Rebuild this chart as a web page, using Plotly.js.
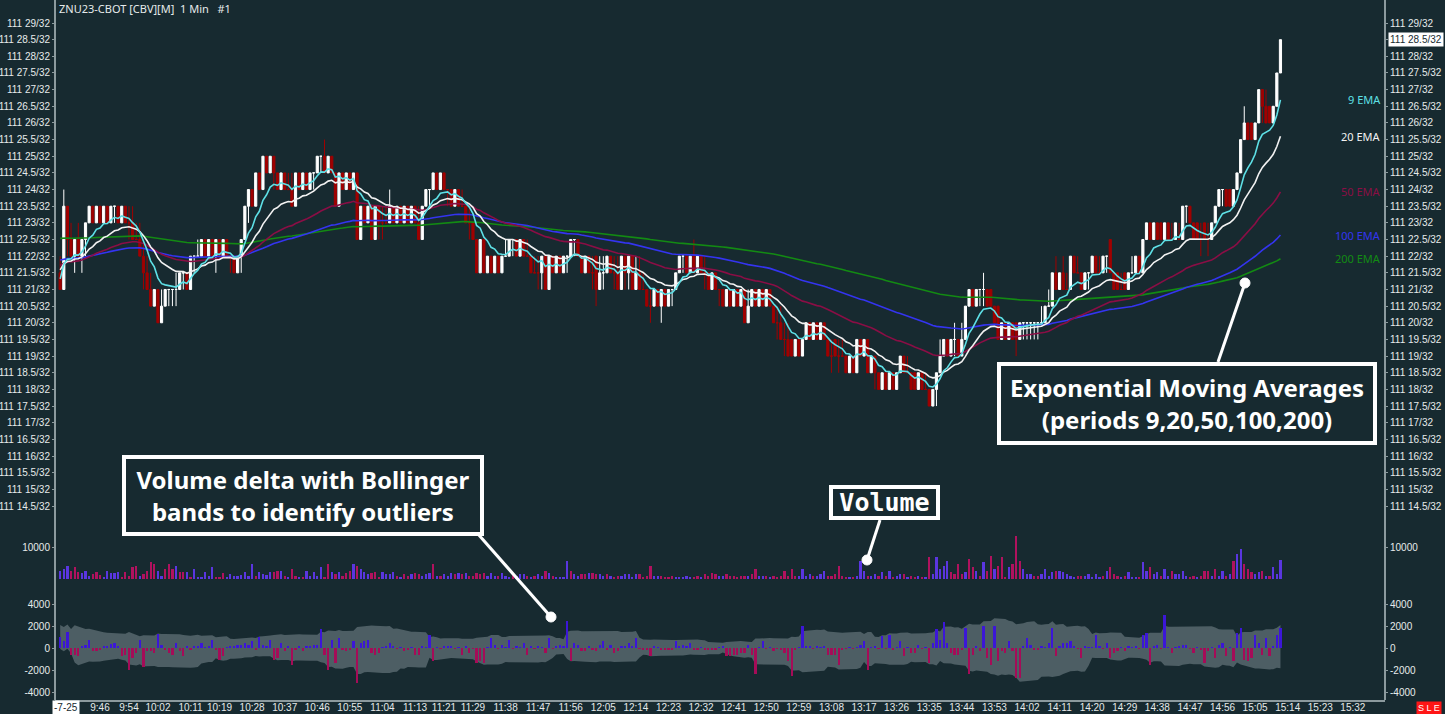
<!DOCTYPE html>
<html>
<head>
<meta charset="utf-8">
<script src="https://cdn.plot.ly/plotly-3.0.1.min.js"></script>
<style>
html,body{margin:0;padding:0;background:#172a30;}
#chart{width:1445px;height:714px;}
</style>
</head>
<body>
<div id="chart"></div>
<script>
// ---------- DATA ----------
// first bar at 9:35, one bar per minute
const firstBarMinute = 575;
// prices in 64ths of a point above 111 (i.e. 2 x the "/32" value)
const open64 = [
43,42,47,45,44,45,44,45,46,47, 46,47,46,47,46,47,47,46,47,46, 46,45,45,44,43,42,41,42,40,41,
42,42,42,42,43,43,42,44,44,44, 45,44,45,44,45,44,45,44,44,43, 44,45,47,48,47,49,48,50,49,50,
49,48,49,48,48,47,49,48,49,48, 49,49,50,50,49,50,49,47,49,48, 49,48,49,45,47,46,47,45,47,46,
46,46,47,46,47,46,47,46,47,46, 45,47,48,48,49,48,49,48,48,47, 48,47,47,46,46,45,43,45,43,44,
43,44,43,44,44,45,45,44,45,44, 44,43,43,43,44,42,44,43,44,43, 44,44,45,45,44,43,44,43,44,42,
43,43,44,43,43,42,44,43,44,42, 43,42,42,41,41,42,41,42,41,42, 42,43,44,44,43,44,43,44,43,43,
42,43,42,42,41,42,41,42,41,42, 40,41,42,41,42,41,42,41,40,40, 39,39,39,38,39,38,39,40,39,40,
39,40,39,38,39,38,38,38,37,38, 37,39,38,39,37,38,37,36,37,36, 37,36,37,38,37,37,37,36,37,36,
36,35,36,37,38,39,38,39,39,38, 39,41,42,41,42,42,42,42,41,41, 39,40,39,40,40,39,40,40,40,40,
40,40,40,41,41,43,42,43,42,42, 44,43,43,42,43,43,44,43,43,44, 45,43,43,42,43,42,43,43,44,43,
45,46,45,46,46,45,46,45,45,45, 45,47,47,46,46,45,46,45,45,46, 47,48,48,48,47,48,49,51,52,52,
51,52,54,53,53,52,53,55];
const high64 = [
44,48,47,46,45,46,45,46,47,47, 47,47,47,47,47,47,47,47,47,47, 47,46,46,45,44,43,42,42,42,42,
42,42,43,43,43,43,44,44,45,45, 45,45,45,45,45,45,45,44,44,44, 45,47,48,48,49,49,50,50,50,50,
49,49,49,49,49,49,49,49,49,49, 49,50,50,51,50,50,49,49,49,49, 49,49,49,47,47,47,47,47,47,47,
47,48,47,47,47,47,47,47,47,47, 47,48,48,49,49,49,49,48,48,48, 48,48,47,47,46,45,45,45,44,44,
44,44,44,45,45,45,45,45,45,45, 44,44,44,44,44,44,44,44,44,44, 44,45,45,45,44,44,44,44,44,44,
44,44,44,44,44,44,44,44,44,44, 44,43,42,42,42,42,42,42,42,42, 43,44,44,44,44,45,44,44,44,43,
43,43,42,42,42,42,42,42,42,42, 42,42,42,42,42,42,42,41,41,41, 40,40,39,39,39,39,40,40,40,40,
40,40,39,39,39,39,39,38,38,38, 39,39,39,39,38,38,37,37,37,37, 37,37,38,38,38,37,37,37,37,37,
36,36,37,39,39,39,39,40,39,40, 41,42,42,42,42,43,42,42,41,41, 40,40,40,40,40,40,40,40,40,40,
40,41,41,42,43,44,43,44,43,44, 44,44,43,43,43,44,44,44,44,44, 45,43,43,43,43,43,44,44,44,45,
46,46,46,46,46,46,46,46,46,46, 47,47,47,46,46,46,46,46,46,47, 48,48,48,48,48,49,51,53,52,52,
52,54,54,54,53,53,55,57];
const low64 = [
42,42,44,44,43,44,43,44,46,46, 46,46,46,46,46,46,46,46,46,45, 45,45,44,42,42,41,41,40,40,41,
41,41,41,42,42,42,42,43,44,44, 44,44,44,43,44,44,44,43,43,43, 43,45,46,47,47,48,48,49,49,48,
48,48,48,48,47,47,48,48,48,48, 48,49,49,49,49,49,47,47,48,48, 48,48,45,45,46,46,45,45,45,45,
46,46,46,46,46,46,46,46,46,45, 45,47,47,48,48,48,48,47,47,47, 47,47,46,45,45,43,43,43,43,43,
43,43,43,44,44,44,44,44,44,44, 43,43,42,42,42,42,43,43,43,43, 43,44,44,44,43,43,43,42,41,42,
42,43,43,42,42,42,42,42,42,42, 42,42,41,40,41,41,40,41,41,41, 42,43,43,43,43,43,43,43,42,42,
42,42,41,41,41,41,41,41,41,40, 40,41,41,41,41,41,41,40,39,39, 38,38,38,38,38,38,39,39,39,39,
39,39,38,37,38,37,38,37,37,37, 37,38,38,37,37,36,36,36,36,36, 36,36,37,37,37,36,36,36,36,36,
35,35,35,37,38,38,38,38,38,38, 39,41,41,41,41,41,41,41,40,39, 39,39,39,39,38,39,39,39,39,39,
39,40,40,41,41,42,42,42,42,42, 43,43,42,42,42,43,43,43,43,43, 43,42,42,42,42,42,43,43,43,43,
45,45,45,45,45,45,45,45,45,45, 45,46,46,45,45,44,45,44,45,46, 47,47,47,47,47,48,49,51,51,51,
51,52,52,52,52,52,53,55];
const close64 = [
42,47,45,44,45,44,45,46,47,46, 47,46,47,46,47,47,46,47,46,46, 45,45,44,43,42,41,42,40,41,42,
42,42,42,43,43,42,44,44,44,45, 44,45,44,45,44,45,44,44,43,44, 45,47,48,47,49,48,50,49,50,49,
48,49,48,48,47,49,48,49,48,49, 49,50,50,49,50,49,47,49,48,49, 48,49,45,47,46,47,45,47,46,46,
46,47,46,47,46,47,46,47,46,45, 47,48,48,49,48,49,48,48,47,48, 47,47,46,46,45,43,45,43,44,43,
44,43,44,44,45,45,44,45,44,44, 43,43,43,44,42,44,43,44,43,44, 44,45,45,44,43,44,43,43,42,43,
43,44,43,43,42,44,43,44,42,43, 42,42,41,41,42,41,42,41,42,42, 43,44,44,43,44,43,44,43,43,42,
43,42,42,41,42,41,42,41,42,40, 41,42,41,42,41,42,41,40,40,39, 39,38,38,39,38,39,40,39,40,39,
40,39,38,38,38,38,38,37,38,37, 39,38,39,37,38,37,36,37,36,37, 36,37,38,37,37,36,36,37,36,36,
35,36,37,38,39,38,39,39,38,39, 41,42,41,42,42,42,41,41,40,39, 40,39,40,39,39,40,40,40,40,40,
40,40,41,41,43,42,43,42,42,44, 43,43,42,43,43,44,43,43,44,44, 43,42,42,42,42,43,43,44,43,45,
46,45,46,45,45,46,45,45,46,45, 47,47,46,45,45,45,45,45,46,47, 48,48,47,47,48,49,51,52,51,51,
52,54,53,52,52,53,55,57];
const volume = [
2600,3100,4200,2600,3600,2100,1900,2600,1000,1600, 2100,1250,500,2600,1900,1900,2300,500,2100,1000,
3600,4200,1000,1600,2600,5200,4700,2600,1000,3100, 4700,3100,4200,2100,2100,2100,500,3100,500,500,
2100,1000,3600,500,500,1900,500,1600,1000,1000, 1250,2100,1000,4700,1000,2300,1600,1250,2100,2300,
2600,2600,1000,500,3100,1000,500,500,2600,1000, 2100,1000,3600,500,4700,2100,1600,2100,1000,1900,
2600,4700,4200,3100,2100,1600,1900,2100,500,2100, 1600,1600,2300,1000,600,1500,1000,1500,2000,1500,
1000,1500,2000,4700,1000,1000,1500,1000,2000,1500, 2000,1500,2000,1000,1000,2000,1500,2000,1000,2000,
1000,1000,2000,1000,500,1500,1000,1500,1500,1000, 500,1000,1500,1000,2600,2000,1000,500,500,500,
5700,2600,1500,1000,1500,1500,2000,2000,1500,1500, 1000,1500,1000,500,1000,1000,1500,1500,500,1500,
1500,500,1000,4200,1000,1000,1000,500,500,1000, 500,500,500,1000,500,500,1000,500,1500,1000,
2000,1500,1000,1000,1500,1000,1000,500,1000,1000, 1000,1500,3100,1000,1000,1000,500,1000,500,1000,
2600,1000,3100,1000,1000,3100,1000,1500,1000,1000, 1500,2600,1000,1000,1500,4200,1000,500,500,500,
1000,5700,2600,1000,1000,1500,1000,2100,1000,2600, 500,1000,1500,1500,500,1000,500,800,500,500,
6800,1600,6800,3100,4200,5700,2100,1600,4700,1600, 2100,6200,3600,2600,1000,5200,2600,7300,3100,4200,
6800,500,3600,4700,13500,5700,3100,1600,1600,800, 800,1600,3100,1000,2100,2600,2600,2100,1600,1000,
500,800,1000,1000,1600,500,1600,500,800,2600, 3600,1600,1000,500,1000,2100,500,500,500,5200,
2600,3600,1600,2100,800,3100,1000,2600,1600,1600, 2600,1000,500,800,500,1000,2600,2600,1000,3100,
1000,2600,800,1600,5700,7800,9400,4700,3100,2100, 1600,2100,2600,1000,1000,3600,1600,6000];
const volumeDelta = [
1000,600,1500,-600,-600,-750,150,250,750,-300, -250,-150,150,150,350,450,150,-750,-600,-2000,
-900,-450,750,-1700,-300,-300,-450,1300,300,-150, -450,-600,450,-300,-750,150,-150,150,150,450,
100,150,750,-200,-1100,-750,100,150,150,250, 300,450,300,600,-150,1000,300,150,750,-1050,
-900,450,-300,150,-1500,-150,150,-300,150,150, 300,300,1700,-600,-2000,750,-1350,900,-150,-300,
-150,600,-3200,450,600,750,-450,-600,-450,100, 150,450,150,-100,100,-300,-150,100,-600,-600,
150,100,1200,-1200,100,-100,150,150,150,-100, 100,-600,150,-450,-100,-1350,-1200,-1350,100,900,
300,-100,300,100,750,-100,150,100,450,-600, 150,-100,150,100,-450,900,-100,150,300,150,
2500,-1200,450,300,-300,-300,150,-150,-300,300, 600,-150,300,-450,-300,150,150,450,150,900,
-100,-150,-150,-750,150,100,-150,-150,-150,-150, 600,150,300,150,450,-150,-150,100,-150,-150,
-150,-150,100,150,-750,-750,-600,-600,-450,-450, 300,-600,-2400,100,600,-100,100,-300,-100,-150,
-450,-1200,-2500,-150,100,2000,150,150,-100,150, 100,150,-600,-600,-600,-1500,-150,-100,100,-100,
100,300,600,-2000,100,150,-100,1050,-100,1200, -150,100,600,-750,100,-450,-450,300,-100,100,
-1350,450,1700,750,2400,450,-450,-600,-600,-150, 1800,-2400,-600,150,-300,2000,-900,-1500,2000,-1200,
-300,-450,600,-300,-2700,-2700,150,900,300,-150, -150,150,100,450,1800,-750,150,450,450,600,
150,-100,-900,150,100,100,1200,150,-100,450, -900,-450,-300,100,-300,150,100,150,-100,1200,
1350,-1500,150,300,-100,3000,100,-450,100,150, 300,300,-100,-450,100,-150,-1350,-300,100,-900,
300,450,-750,100,-1200,1350,1800,-1050,-1200,-900, 1200,450,-600,900,-750,150,1200,1800];

const emaPeriods = [9, 20, 50, 100, 200];
const emaStart32 = [21.4, 21.65, 21.75, 21.9, 22.55];
const emaNames = ['9 EMA', '20 EMA', '50 EMA', '100 EMA', '200 EMA'];
const bollPeriod = 20, bollK = 2;

// tick labels
const priceTicks32 = [29,28.5,28,27.5,27,26.5,26,25.5,25,24.5,24,23.5,23,22.5,22,21.5,21,20.5,20,19.5,19,18.5,18,17.5,17,16.5,16,15.5,15,14.5];
const volumeTicks = [10000];
const deltaTicks = [4000, 2000, 0, -2000, -4000];
const timeLabels = ['9:46','9:54','10:02','10:11','10:19','10:28','10:37','10:46','10:55','11:04','11:13','11:21','11:29','11:38','11:47','11:56','12:05','12:14','12:23','12:32','12:41','12:50','12:59','13:08','13:17','13:26','13:35','13:44','13:53','14:02','14:11','14:20','14:29','14:38','14:47','14:56','15:05','15:14','15:23','15:32'];

// ---------- STYLE ----------
const BG = '#172a30';
const AXIS = '#8c9a9e';
const TXT = '#e6eaeb';
const FONT = 'Noto Sans, Open Sans, sans-serif';
const AXFONT = 'Liberation Sans, Arial, sans-serif';
const emaColors = ['#5ee0e6', '#f2f2f2', '#8a0e45', '#3434f0', '#138a13'];
const UPV = '#5a36e0', DNV = '#b0125e';
const UPD = '#3c16d8', DND = '#a50c58';

// ---------- DERIVED ----------
const N = close64.length;
const t = close64.map((_, i) => firstBarMinute + i);
const o = open64.map(v => v / 2), h = high64.map(v => v / 2), l = low64.map(v => v / 2), c = close64.map(v => v / 2);

function ema(src, n, start) {
  const a = 2 / (n + 1); let e = start; const out = [];
  for (const v of src) { e = e + a * (v - e); out.push(e); }
  return out;
}
const emas = emaPeriods.map((n, k) => ema(c, n, emaStart32[k]));

const bbUp = [], bbLo = [];
for (let i = 0; i < N; i++) {
  const w = volumeDelta.slice(Math.max(0, i - bollPeriod + 1), i + 1);
  const m = w.reduce((s, v) => s + v, 0) / w.length;
  const sd = Math.sqrt(w.reduce((s, v) => s + (v - m) * (v - m), 0) / w.length);
  const sdUse = w.length < 5 ? 550 : sd;
  bbUp.push(m + bollK * sdUse); bbLo.push(m - bollK * sdUse);
}

const toMin = s => { const [hh, mm] = s.split(':').map(Number); return hh * 60 + mm; };
const priceText = v => '111 ' + v + '/32';
const lastPrice = c[N - 1];

// pixel helpers for paper-positioned decorations
const W = 1445, H = 714, ML = 55, MR = 60, MT = 0, MB = 14;
const PW = W - ML - MR, PH = H - MT - MB;
const px = x => (x - ML) / PW;
const py = y => (PH + MT - y) / PH;

// ---------- TRACES ----------
const traces = [];
traces.push({
  type: 'candlestick', x: t, open: o, high: h, low: l, close: c,
  xaxis: 'x', yaxis: 'y', whiskerwidth: 0,
  increasing: { line: { color: '#ffffff', width: 1 }, fillcolor: '#ffffff' },
  decreasing: { line: { color: '#a00000', width: 1 }, fillcolor: '#a00000' },
  showlegend: false, hoverinfo: 'skip'
});
for (let k = emas.length - 1; k >= 0; k--) {
  traces.push({ type: 'scatter', mode: 'lines', x: t, y: emas[k], xaxis: 'x', yaxis: 'y',
    line: { color: emaColors[k], width: 1.6 }, showlegend: false, hoverinfo: 'skip' });
}
// Bollinger band on the base delta axis, delta bars on an overlay so they sit on top
traces.push({ type: 'scatter', mode: 'lines', x: t, y: bbUp, xaxis: 'x', yaxis: 'y3',
  line: { width: 0, color: 'rgba(0,0,0,0)' }, showlegend: false, hoverinfo: 'skip' });
traces.push({ type: 'scatter', mode: 'lines', x: t, y: bbLo, xaxis: 'x', yaxis: 'y3', fill: 'tonexty',
  fillcolor: '#4d5e64', line: { width: 0, color: 'rgba(0,0,0,0)' }, showlegend: false, hoverinfo: 'skip' });
traces.push({ type: 'bar', x: t, y: volumeDelta, xaxis: 'x', yaxis: 'y7', width: 0.62,
  marker: { color: volumeDelta.map(v => v >= 0 ? UPD : DND), line: { width: 0 } }, showlegend: false, hoverinfo: 'skip' });
traces.push({ type: 'bar', x: t, y: volume, xaxis: 'x', yaxis: 'y2', width: 0.62,
  marker: { color: volumeDelta.map(v => v >= 0 ? UPV : DNV), line: { width: 0 } }, showlegend: false, hoverinfo: 'skip' });
['y4', 'y5', 'y6'].forEach(ax => traces.push({ type: 'scatter', x: [], y: [], xaxis: 'x', yaxis: ax, showlegend: false, hoverinfo: 'skip' }));

// ---------- LAYOUT ----------
const tickFont = { family: AXFONT, size: 10, color: TXT };
const yBase = { showgrid: false, zeroline: false, ticks: 'outside', ticklen: 2, tickcolor: AXIS, tickwidth: 1,
  showline: false, tickfont: tickFont, fixedrange: true };
const priceRange = [29 - (515 - 23) / 33.31, 29 + 23 / 33.31];
const priceDom = [py(515), 1];
const volDom = [py(579), py(530)];
const volRange = [0, (579 - 530) * 312.5];
const delDom = [0, py(592)];
const delRange = [(648 - 700) * 90.9, (648 - 592) * 90.9];

const layout = {
  width: W, height: H, paper_bgcolor: BG, plot_bgcolor: BG,
  margin: { l: ML, r: MR, t: MT, b: MB, pad: 0 },
  showlegend: false, hovermode: false, boxgap: 0.15, bargap: 0,
  font: { family: FONT, color: TXT, size: 11 },
  xaxis: { range: [573.57, 940.87], anchor: 'y3', showgrid: false, zeroline: false,
    tickvals: timeLabels.map(toMin), ticktext: timeLabels, ticks: '', ticklabelstandoff: -3,
    showline: true, linecolor: AXIS, linewidth: 2, tickfont: tickFont, rangeslider: { visible: false }, fixedrange: true },
  yaxis: Object.assign({}, yBase, { domain: priceDom, range: priceRange, side: 'left',
    tickvals: priceTicks32, ticktext: priceTicks32.map(priceText) }),
  yaxis2: Object.assign({}, yBase, { domain: volDom, range: volRange, side: 'left',
    tickvals: volumeTicks, ticktext: volumeTicks.map(String) }),
  yaxis3: Object.assign({}, yBase, { domain: delDom, range: delRange, side: 'left',
    tickvals: deltaTicks, ticktext: deltaTicks.map(String) }),
  yaxis4: Object.assign({}, yBase, { overlaying: 'y', range: priceRange, side: 'right', anchor: 'x',
    tickvals: priceTicks32, ticktext: priceTicks32.map(v => v === lastPrice ? '' : priceText(v)) }),
  yaxis5: Object.assign({}, yBase, { overlaying: 'y2', range: volRange, side: 'right', anchor: 'x',
    tickvals: volumeTicks, ticktext: volumeTicks.map(String) }),
  yaxis6: Object.assign({}, yBase, { overlaying: 'y3', range: delRange, side: 'right', anchor: 'x',
    tickvals: deltaTicks, ticktext: deltaTicks.map(String) }),
  yaxis7: { overlaying: 'y3', range: delRange, side: 'left', anchor: 'x', visible: false, fixedrange: true,
    showgrid: false, zeroline: false },
  shapes: [], annotations: []
};

// frame lines
layout.shapes.push({ type: 'line', xref: 'paper', yref: 'paper', x0: 0, x1: 0, y0: 0, y1: 1, line: { color: AXIS, width: 2 }, layer: 'above' });
layout.shapes.push({ type: 'line', xref: 'paper', yref: 'paper', x0: 1, x1: 1, y0: 0, y1: 1, line: { color: AXIS, width: 2 }, layer: 'above' });

// callout lines & dots
function callout(x1, y1, x2, y2) {
  layout.shapes.push({ type: 'line', xref: 'paper', yref: 'paper', x0: px(x1), y0: py(y1), x1: px(x2), y1: py(y2),
    line: { color: '#ffffff', width: 3 }, layer: 'above' });
  layout.shapes.push({ type: 'circle', xref: 'paper', yref: 'paper', x0: px(x2 - 5), x1: px(x2 + 5), y0: py(y2 + 5), y1: py(y2 - 5),
    fillcolor: '#ffffff', line: { color: '#ffffff', width: 1 }, layer: 'above' });
}
callout(1218, 362, 1245, 283);
callout(478, 534, 551, 617);
callout(880, 520, 867, 560);

const A = layout.annotations;
A.push({ xref: 'paper', yref: 'paper', x: px(57), y: py(8), xanchor: 'left', yanchor: 'middle', showarrow: false,
  text: 'ZNU23-CBOT [CBV][M]\u00a0\u00a01 Min\u00a0\u00a0\u00a0#1', font: { family: FONT, size: 11, color: TXT } });

// EMA labels at the last EMA value
emas.forEach((e, k) => A.push({ xref: 'paper', yref: 'y', x: px(1383), y: e[N - 1], xanchor: 'right', yanchor: 'middle',
  showarrow: false, text: emaNames[k], font: { family: FONT, size: 11, color: emaColors[k] } }));

// last price marker on the right axis
A.push({ xref: 'paper', yref: 'y', x: px(1388), y: lastPrice, xanchor: 'left', yanchor: 'middle', showarrow: false,
  text: priceText(lastPrice), bgcolor: '#ffffff', borderpad: 1, font: { family: AXFONT, size: 10, color: '#172a30' } });

// date stamp and status box
A.push({ xref: 'paper', yref: 'paper', x: px(52), y: py(707), xanchor: 'left', yanchor: 'middle', showarrow: false,
  text: '-7-25', bgcolor: '#ffffff', borderpad: 1, font: { family: AXFONT, size: 10, color: '#172a30' } });
A.push({ xref: 'paper', yref: 'paper', x: px(1442), y: py(707.5), xanchor: 'right', yanchor: 'middle', showarrow: false,
  text: 'S L E', bgcolor: '#ff1616', borderpad: 1, font: { family: AXFONT, size: 9, color: '#ffffff' } });

// explanation boxes
function box(cx, cy, w, hgt, text, family, size) {
  A.push({ xref: 'paper', yref: 'paper', x: px(cx), y: py(cy), xanchor: 'center', yanchor: 'middle', showarrow: false,
    text: text, align: 'center', width: w, height: hgt, bgcolor: BG, bordercolor: '#ffffff', borderwidth: 4, borderpad: 2,
    font: { family: family, size: size, color: '#ffffff', weight: 700 } });
}
box(1187, 403.5, 368, 71, 'Exponential Moving Averages<br>(periods 9,20,50,100,200)', FONT, 24);
box(303, 495.5, 350, 69, 'Volume delta with Bollinger<br>bands to identify outliers', FONT, 24);
box(884.5, 502.5, 99, 23, 'Volume', 'DejaVu Sans Mono, monospace', 25);

Plotly.newPlot('chart', traces, layout, { displayModeBar: false, staticPlot: true });
</script>
</body>
</html>
